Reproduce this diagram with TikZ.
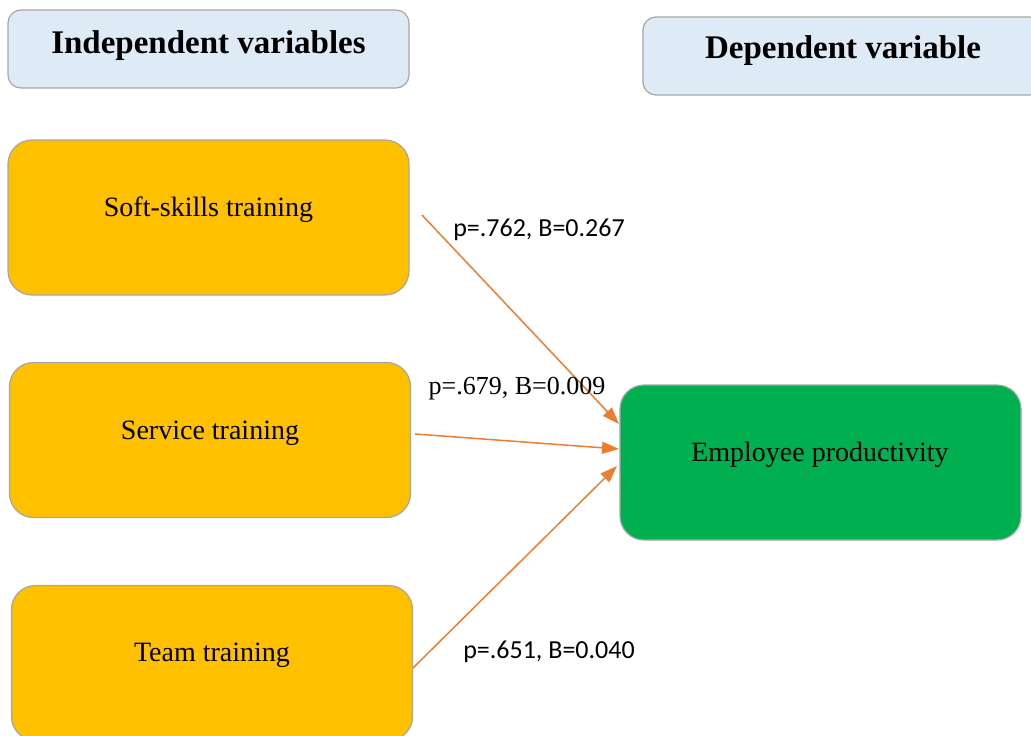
\documentclass[tikz,border=0pt]{standalone}
\usepackage{fontspec}
\setmainfont{Liberation Serif}
\newfontfamily\calib{Carlito}
\usetikzlibrary{arrows.meta}
\definecolor{headblue}{HTML}{DEEBF7}
\definecolor{gold}{HTML}{FFC000}
\definecolor{prodgreen}{HTML}{00B050}
\definecolor{edgegray}{HTML}{A6A6A6}
\definecolor{arrorange}{HTML}{ED7D31}
\begin{document}
\begin{tikzpicture}[x=1pt, y=-1pt,
    box/.style={draw=edgegray, line width=1.2pt, rounded corners=24pt, minimum width=401pt, minimum height=155pt, inner sep=0pt},
    headbox/.style={box, fill=headblue, rounded corners=13pt, minimum height=78pt},
    boxtext/.style={font=\fontsize{28}{30}\selectfont, inner sep=0pt},
    headtext/.style={font=\fontsize{33}{35}\selectfont\bfseries, inner sep=0pt},
    coef/.style={font=\calib\fontsize{26}{28}\selectfont, inner sep=0pt},
    link/.style={draw=arrorange, line width=1.5pt, -{Triangle[length=17pt,width=12pt]}}]
    \useasboundingbox (0,0) rectangle (1031,736);
    \clip (0,0) rectangle (1031,736);
    % headings
    \node[headbox] (indhead) at (208.5,49) {};
    \node[headtext] (indtext) at (208.5,46) {Independent variables};
    \node[headbox] (dephead) at (843.5,56) {};
    \node[headtext] (deptext) at (843,51) {Dependent variable};
    % training boxes
    \node[box, fill=gold] (soft) at (208.5,217.5) {};
    \node[boxtext] (softtext) at (208.5,210) {Soft-skills training};
    \node[box, fill=gold] (serv) at (210,440) {};
    \node[boxtext] (servtext) at (210,433) {Service training};
    \node[box, fill=gold] (team) at (212,663) {};
    \node[boxtext] (teamtext) at (212,655) {Team training};
    % outcome
    \node[box, fill=prodgreen] (prod) at (820.5,462.5) {};
    \node[boxtext] (prodtext) at (820,455) {Employee productivity};
    % arrows
    \coordinate (softout) at (422,215);
    \coordinate (servout) at (415,434);
    \coordinate (teamout) at (413,668);
    \coordinate (softin) at (619,424);
    \coordinate (servin) at (619,449);
    \coordinate (teamin) at (617,466);
    \draw[link] (softout) -- (softin);
    \draw[link] (servout) -- (servin);
    \draw[link] (teamout) -- (teamin);
    \node[coef] (softcoef) at (539,230) {p=.762, B=0.267};
    \node[coef, font=\fontsize{26}{28}\selectfont] (servcoef) at (517,389) {p=.679, B=0.009};
    \node[coef] (teamcoef) at (549,652) {p=.651, B=0.040};
\end{tikzpicture}
\end{document}
